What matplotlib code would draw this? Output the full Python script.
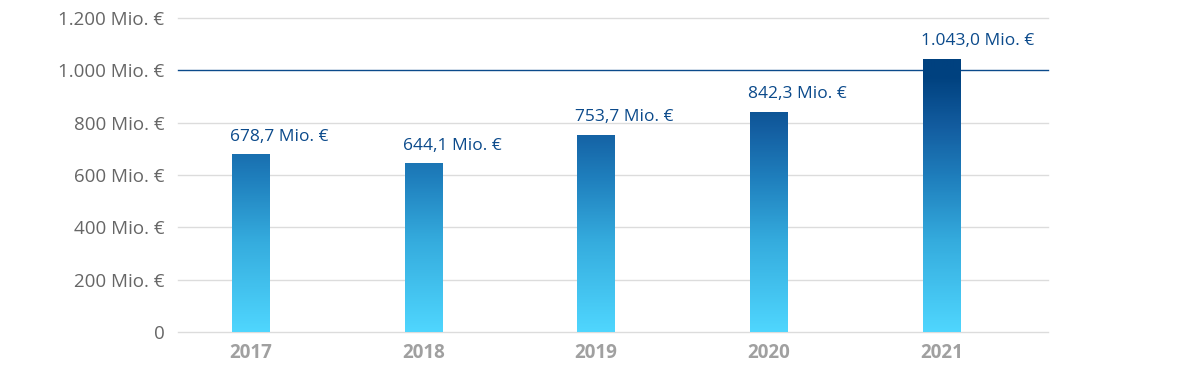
import matplotlib
matplotlib.use("Agg")
import matplotlib.pyplot as plt
import numpy as np
from matplotlib.colors import LinearSegmentedColormap, Normalize

years = ["2017", "2018", "2019", "2020", "2021"]
values = [678.7, 644.1, 753.7, 842.3, 1043.0]
value_labels = ["678,7 Mio. €", "644,1 Mio. €", "753,7 Mio. €", "842,3 Mio. €", "1.043,0 Mio. €"]
yticks = [0, 200, 400, 600, 800, 1000, 1200]
ytick_labels = ["0", "200 Mio. €", "400 Mio. €", "600 Mio. €", "800 Mio. €", "1.000 Mio. €", "1.200 Mio. €"]

plt.rcParams['font.family'] = ['Open Sans', 'DejaVu Sans']

fig = plt.figure(figsize=(12, 3.75), dpi=100)
ax = fig.add_axes([178/1200, 1 - 332/375, (1048-178)/1200, (332-18)/375])

cmap = LinearSegmentedColormap.from_list("grad", [
    (0.0, "#4fd6fe"), (0.35, "#35acde"), (0.6, "#1f7fbd"), (0.8, "#135da0"), (1.0, "#00417f")])
norm = Normalize(vmin=0, vmax=980, clip=True)

x = np.arange(len(years))
width = 0.217
bars = ax.bar(x, values, width=width, color="none", edgecolor="none", zorder=3)
for b in bars:
    h = b.get_height()
    grad = np.linspace(0, h, 256).reshape(-1, 1)
    im = ax.imshow(grad, cmap=cmap, norm=norm, origin="lower", aspect="auto",
                   extent=[b.get_x(), b.get_x() + b.get_width(), 0, h],
                   interpolation="bilinear", zorder=3)
    im.set_clip_path(b)

for b, v, lab in zip(bars, values, value_labels):
    ax.annotate(lab, (b.get_x(), v), xytext=(-1.5, 7), textcoords="offset points",
                ha="left", va="bottom", color="#0b4a8b", fontsize=12.5, zorder=4)

ax.set_xlim(-0.421, 4.617)
ax.set_ylim(0, 1200)
ax.set_yticks(yticks)
ax.set_yticklabels(ytick_labels)
ax.set_xticks(x)
ax.set_xticklabels(years)

for t in yticks:
    if t == 1000:
        ax.axhline(t, color="#0b4a8b", lw=1.0, zorder=2, clip_on=False)
    else:
        ax.axhline(t, color="#dcdcdc", lw=1.0, zorder=1, clip_on=False)

for s in ax.spines.values():
    s.set_visible(False)
ax.tick_params(axis="y", length=0, pad=9.8, labelsize=13.5, labelcolor="#666666")
ax.tick_params(axis="x", length=0, pad=8, labelsize=13.5, labelcolor="#a0a0a0")
for lbl in ax.get_xticklabels():
    lbl.set_fontweight("bold")

fig.savefig("out.png", dpi=100)
